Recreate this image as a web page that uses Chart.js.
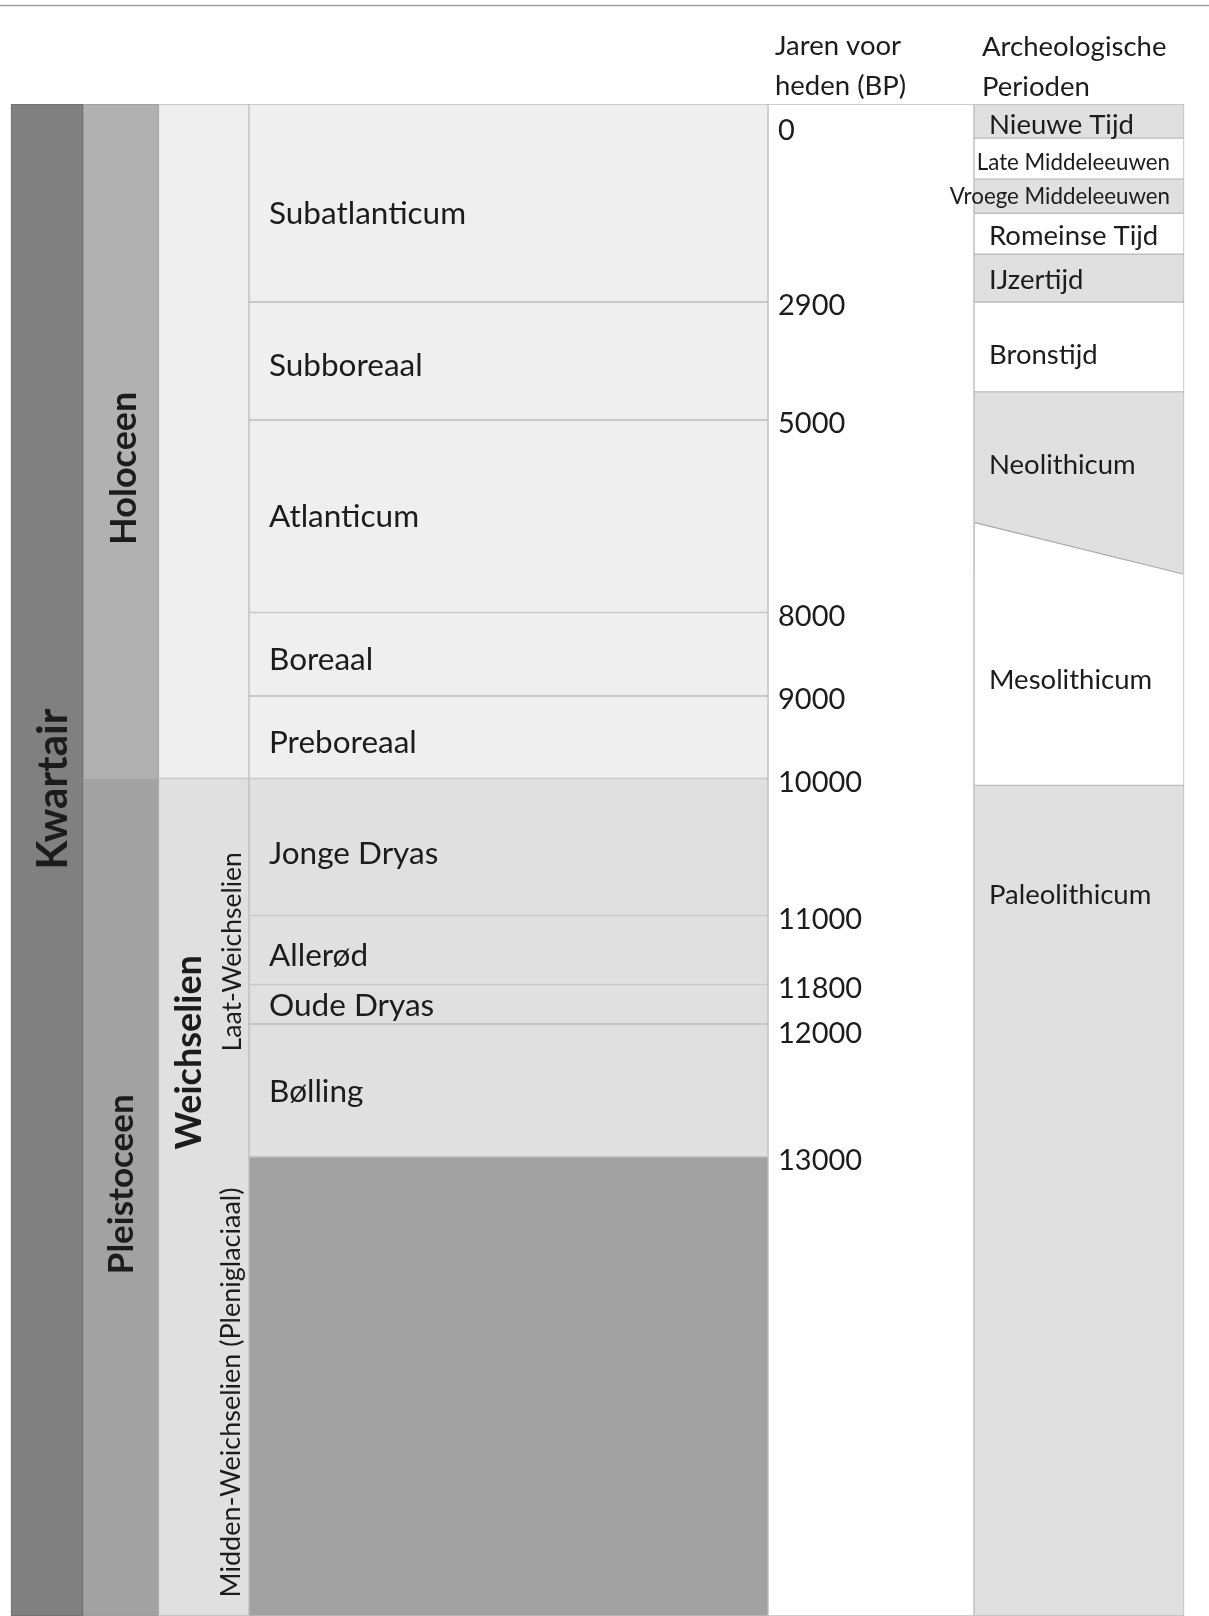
<!DOCTYPE html>
<html>
<head>
<meta charset="utf-8">
<script src="https://cdn.jsdelivr.net/npm/chart.js@4.4.1/dist/chart.umd.min.js"></script>
<style>
html,body{margin:0;padding:0;background:#fff;}
#wrap{position:relative;width:1209px;height:1616px;}
</style>
</head>
<body>
<div id="wrap"><canvas id="c"></canvas></div>
<script>
// ---------------- DATA (years before present, BP) ----------------
const END = 16000; // open-ended older limit of the diagram

const eraNames  = ['Kwartair'];
const eraStart  = [0];
const eraEnd    = [END];

const epochNames = ['Holoceen', 'Pleistoceen'];
const epochStart = [0, 10000];
const epochEnd   = [10000, END];

const stageNames = ['', 'Weichselien'];
const stageStart = [0, 10000];
const stageEnd   = [10000, END];

const subStageNames = ['Laat-Weichselien', 'Midden-Weichselien (Pleniglaciaal)'];
const subStageStart = [10000, 13000];
const subStageEnd   = [13000, END];

const chronozoneNames = ['Subatlanticum', 'Subboreaal', 'Atlanticum', 'Boreaal', 'Preboreaal',
                         'Jonge Dryas', 'Allerød', 'Oude Dryas', 'Bølling', ''];
const chronozoneStart = [0, 2900, 5000, 8000, 9000, 10000, 11000, 11800, 12000, 13000];
const chronozoneEnd   = [2900, 5000, 8000, 9000, 10000, 11000, 11800, 12000, 13000, END];

const yearTicks = [0, 2900, 5000, 8000, 9000, 10000, 11000, 11800, 12000, 13000];

const archNames = ['Nieuwe Tijd', 'Late Middeleeuwen', 'Vroege Middeleeuwen', 'Romeinse Tijd',
                   'IJzertijd', 'Bronstijd', 'Neolithicum', 'Mesolithicum', 'Paleolithicum'];
const archStart = [0, 500, 1100, 1600, 2200, 2900, 4500, 7400, 10050];
const archEnd   = [500, 1100, 1600, 2200, 2900, 4500, 7400, 10050, END];
// sloping Neolithicum / Mesolithicum boundary: [west edge, east edge]
const neoMesoBoundary = [6600, 7400];

const headerYears = ['Jaren voor', 'heden (BP)'];
const headerArch  = ['Archeologische', 'Perioden'];

// ---------------- LAYOUT (positions / styles) ----------------
const W = 1209, H = 1616, TOP = 104;
const colEdges = [11, 83, 158.5, 249, 768, 974, 1184];
// pixel rows at which the year breakpoints sit (non-linear time axis)
const knotYears = yearTicks.concat([END]);
const knotPx    = [104, 302, 420, 612.5, 696, 778.5, 915.5, 984.5, 1024, 1157, 1616];
const knotFrac  = knotPx.map(p => (p - TOP) / (H - TOP));
const FONT = 'Lato, "Open Sans", sans-serif';
const TXT = '#1c1c1c';
const LINE = '#bcbcbc';

// ---------------- custom break scale ----------------
class BreakScale extends Chart.LinearScale {
  _frac(v) {
    if (v <= knotYears[0]) return knotFrac[0];
    for (let i = 1; i < knotYears.length; i++) {
      if (v <= knotYears[i]) {
        const t = (v - knotYears[i-1]) / (knotYears[i] - knotYears[i-1]);
        return knotFrac[i-1] + t * (knotFrac[i] - knotFrac[i-1]);
      }
    }
    return knotFrac[knotFrac.length - 1];
  }
  getPixelForValue(v) {
    if (v === null || v === undefined || isNaN(v)) return NaN;
    return this.top + this._frac(+v) * (this.bottom - this.top);
  }
  getValueForPixel(p) {
    const f = (p - this.top) / (this.bottom - this.top);
    for (let i = 1; i < knotFrac.length; i++) {
      if (f <= knotFrac[i]) {
        const t = (f - knotFrac[i-1]) / (knotFrac[i] - knotFrac[i-1]);
        return knotYears[i-1] + t * (knotYears[i] - knotYears[i-1]);
      }
    }
    return knotYears[knotYears.length - 1];
  }
}
BreakScale.id = 'breaks';
BreakScale.defaults = {};
Chart.register(BreakScale);

const colCenter = i => (colEdges[i] + colEdges[i+1]) / 2;
const colWidth  = i => colEdges[i+1] - colEdges[i];

function barSet(col, starts, ends, colors, borderColor, borderWidths) {
  return {
    type: 'bar',
    data: starts.map((s, i) => ({x: colCenter(col), y: [s, ends[i]]})),
    barThickness: colWidth(col),
    backgroundColor: colors,
    borderColor: borderColor || LINE,
    borderWidth: borderWidths || 1,
    borderSkipped: false,
    grouped: false,
    order: 2
  };
}

const chronoColors = chronozoneStart.map(s => s < 10000 ? '#efefef' : (s < 13000 ? '#e0e0e0' : '#a1a1a1'));
const archColors = archNames.map((n, i) => i % 2 === 0 ? '#e0e0e0' : '#ffffff');
const archBorders = archNames.map((n, i) => {
  if (n === 'Neolithicum') return {top: 1, left: 1, right: 1, bottom: 0};
  if (n === 'Mesolithicum') return {top: 0, left: 1, right: 1, bottom: 1};
  return 1;
});

const datasets = [
  barSet(0, eraStart, eraEnd, '#808080', '#6f6f6f'),
  barSet(1, epochStart, epochEnd, ['#b1b1b1', '#a2a2a2'], '#9a9a9a'),
  barSet(2, stageStart, stageEnd, ['#eeeeee', '#e0e0e0']),
  barSet(3, chronozoneStart, chronozoneEnd, chronoColors),
  barSet(4, [0], [END], '#ffffff'),
  barSet(5, archStart, archEnd, archColors, LINE, archBorders),
  {
    type: 'line',
    data: [{x: colEdges[5] + 1, y: neoMesoBoundary[0]}, {x: colEdges[6] - 1, y: neoMesoBoundary[1]}],
    borderColor: '#a8a8a8',
    borderWidth: 1.2,
    pointRadius: 0,
    backgroundColor: '#ffffff',
    fill: {value: neoMesoBoundary[1]},
    order: 1
  }
];

// label placement tweaks (pixels)
const rotLabels = [
  {text: eraNames[0],       col: 0, from: eraStart[0],      to: eraEnd[0],      font: 'bold 42px ' + FONT, dx: 6,   dy: -71},
  {text: epochNames[0],     col: 1, from: epochStart[0],    to: epochEnd[0],    font: 'bold 36px ' + FONT, dx: 4,   dy: 27},
  {text: epochNames[1],     col: 1, from: epochStart[1],    to: epochEnd[1],    font: 'bold 35px ' + FONT, dx: 1,   dy: -13},
  {text: stageNames[1],     col: 2, from: stageStart[1],    to: stageEnd[1],    font: 'bold 36px ' + FONT, dx: -14, dy: -145},
  {text: subStageNames[0],  col: 2, from: subStageStart[0], to: subStageEnd[0], font: '26.5px ' + FONT,    dx: 29,  dy: -16},
  {text: subStageNames[1],  col: 2, from: subStageStart[1], to: subStageEnd[1], font: '27px ' + FONT,      dx: 28,  dy: 6}
];
const chronoDy = {'Subatlanticum': 11, 'Subboreaal': 5, 'Atlanticum': 1, 'Boreaal': 6, 'Preboreaal': 6,
                  'Jonge Dryas': 7, 'Allerød': 6, 'Oude Dryas': 2, 'Bølling': 1};
const archDy = {'Nieuwe Tijd': 4, 'Late Middeleeuwen': 4, 'Vroege Middeleeuwen': 1, 'Romeinse Tijd': 2,
                'IJzertijd': 2, 'Bronstijd': 8, 'Neolithicum': -17.5, 'Mesolithicum': 0};

const labelPlugin = {
  id: 'labels',
  beforeDraw(chart) {
    const ctx = chart.ctx;
    ctx.save();
    ctx.strokeStyle = '#a0a0a0';
    ctx.lineWidth = 1.5;
    ctx.beginPath(); ctx.moveTo(0, 5.5); ctx.lineTo(W, 5.5); ctx.stroke();
    ctx.restore();
  },
  afterDatasetsDraw(chart) {
    const ctx = chart.ctx, ys = chart.scales.y;
    const py = v => ys.getPixelForValue(v);
    ctx.save();
    ctx.fillStyle = TXT;
    ctx.textBaseline = 'middle';
    ctx.textAlign = 'left';
    // headers
    ctx.font = '27.5px ' + FONT;
    ctx.fillText(headerYears[0], colEdges[4] + 7, 46);
    ctx.fillText(headerYears[1], colEdges[4] + 7, 86);
    ctx.fillText(headerArch[0], colEdges[5] + 8, 47);
    ctx.fillText(headerArch[1], colEdges[5] + 8, 87);
    // chronozones
    ctx.font = '31.5px ' + FONT;
    chronozoneNames.forEach((n, i) => {
      if (!n) return;
      const y = (py(chronozoneStart[i]) + py(chronozoneEnd[i])) / 2 + (chronoDy[n] || 5);
      ctx.fillText(n, colEdges[3] + 20, y);
    });
    // year ticks
    ctx.font = '29px ' + FONT;
    yearTicks.forEach((t, i) => {
      let y = py(t) + 4;
      if (i === 0) y = py(t) + 27;
      if (t === 12000) y += 6;
      ctx.fillText(String(t), colEdges[4] + 10, y);
    });
    // archaeological periods
    archNames.forEach((n, i) => {
      const small = n.indexOf('Middeleeuwen') >= 0;
      ctx.font = (small ? '22.3px ' : '27.5px ') + FONT;
      let y;
      if (n === 'Paleolithicum') y = py(archStart[i]) + 110;
      else y = (py(archStart[i]) + py(archEnd[i])) / 2 + (archDy[n] || 0);
      if (small) {
        ctx.textAlign = 'right';
        ctx.fillText(n, colEdges[6] - 14, y);
        ctx.textAlign = 'left';
      } else {
        ctx.fillText(n, colEdges[5] + 15, y);
      }
    });
    // rotated labels
    ctx.textAlign = 'center';
    rotLabels.forEach(l => {
      const x = colCenter(l.col) + l.dx;
      const y = (py(l.from) + py(l.to)) / 2 + l.dy;
      ctx.save();
      ctx.translate(x, y);
      ctx.rotate(-Math.PI / 2);
      ctx.font = l.font;
      ctx.fillText(l.text, 0, 0);
      ctx.restore();
    });
    ctx.restore();
  }
};

new Chart(document.getElementById('c'), {
  data: {datasets},
  options: {
    responsive: true,
    maintainAspectRatio: false,
    animation: false,
    events: [],
    layout: {padding: {top: TOP, left: 0, right: 0, bottom: 0}},
    plugins: {legend: {display: false}, tooltip: {enabled: false}},
    scales: {
      x: {type: 'linear', min: 0, max: W, display: false, offset: false, grid: {display: false}},
      y: {type: 'breaks', min: 0, max: END, display: false, grid: {display: false}}
    }
  },
  plugins: [labelPlugin]
});
</script>
</body>
</html>
